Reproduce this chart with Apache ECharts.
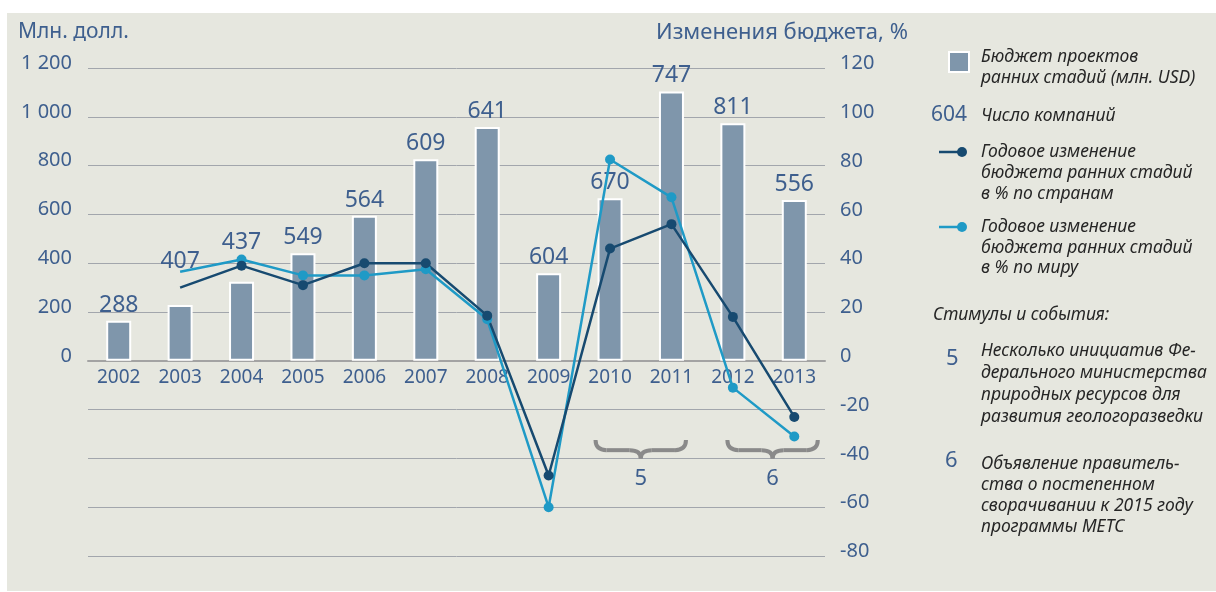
<!DOCTYPE html>
<html lang="ru">
<head>
<meta charset="UTF-8">
<title>Бюджет проектов ранних стадий</title>
<style>
  html, body { margin: 0; padding: 0; background: #fff; }
  #chart { width: 1216px; height: 592px; }
</style>
</head>
<body>
<div id="chart"></div>
<script src="https://cdn.jsdelivr.net/npm/echarts@6/dist/echarts.min.js"></script>
<script>
// data
var years = ['2002', '2003', '2004', '2005', '2006', '2007', '2008', '2009', '2010', '2011', '2012', '2013'];
var budget = [164, 229, 324, 441, 594, 826, 958, 359, 666, 1104, 974, 659];
var companies = [288, 407, 437, 549, 564, 609, 641, 604, 670, 747, 811, 556];
var changeCountries = [null, 30, 39, 31, 40, 40, 18.5, -47, 46, 56, 18, -23];
var changeWorld = [null, 36.5, 41.5, 35, 35, 37.5, 17, -60, 82.5, 67, -11, -31];
var leftTicks = { min: -800, max: 1200, step: 200 };
var rightTicks = { min: -80, max: 120, step: 20 };
var events = [
  { from: '2010', to: '2011', label: '5' },
  { from: '2012', to: '2013', label: '6' }
];

// styles
var BLUE_TXT = '#3e5f8e';
var BAR = '#7f96ab';
var DARK = '#174a70';
var LIGHT = '#1f9ac6';
var GRID = '#a2a6ac';
var FONT = '"Noto Sans", "Open Sans", sans-serif';
var labelLift = { 1: -28, 2: -24 };   // raise 407 / 437 above the lines
var braceShift = [0, 9];
var GRID_TOP = 68, GRID_BOTTOM = 36, H = 592;

var chart = echarts.init(document.getElementById('chart'));

function firstPointPlain(arr) {
  var done = false;
  return arr.map(function (v) {
    if (v != null && !done) { done = true; return { value: v, symbol: 'none' }; }
    return v;
  });
}

function spaced(v) {
  return String(v).replace(/\B(?=(\d{3})+(?!\d))/g, ' ');
}

// x axis sits on the zero of the left axis
var gridH = H - GRID_TOP - GRID_BOTTOM;
var zeroOffset = -gridH * (0 - leftTicks.min) / (leftTicks.max - leftTicks.min);

var option = {
  animation: false,
  backgroundColor: 'transparent',
  grid: { left: 88, right: 391, top: GRID_TOP, bottom: GRID_BOTTOM },
  xAxis: {
    type: 'category',
    data: years,
    boundaryGap: true,
    offset: zeroOffset,
    axisLine: { onZero: false, lineStyle: { color: '#a3a3a3', width: 2 } },
    axisTick: { show: false },
    axisLabel: { color: BLUE_TXT, fontSize: 19, fontFamily: FONT, margin: 7 }
  },
  yAxis: [{
    type: 'value',
    min: leftTicks.min, max: leftTicks.max, interval: leftTicks.step,
    axisLine: { show: false }, axisTick: { show: false },
    splitLine: { lineStyle: { color: GRID, width: 1 } },
    axisLabel: {
      color: BLUE_TXT, fontSize: 20, fontFamily: FONT, margin: 16,
      verticalAlign: 'bottom', lineHeight: 10,
      formatter: function (v) { return v < 0 ? '' : spaced(v); }
    }
  }, {
    type: 'value',
    min: rightTicks.min, max: rightTicks.max, interval: rightTicks.step,
    axisLine: { show: false }, axisTick: { show: false },
    splitLine: { show: false },
    axisLabel: {
      color: BLUE_TXT, fontSize: 20, fontFamily: FONT, margin: 15,
      verticalAlign: 'bottom', lineHeight: 9
    }
  }],
  series: [{
    name: 'Бюджет проектов ранних стадий (млн. USD)',
    type: 'bar',
    yAxisIndex: 0,
    barWidth: 25,
    itemStyle: { color: BAR, borderColor: '#fff', borderWidth: 2 },
    label: {
      show: true, position: 'top', distance: 4,
      color: BLUE_TXT, fontSize: 23, fontFamily: FONT,
      formatter: function (p) { return companies[p.dataIndex]; }
    },
    data: budget.map(function (v, i) {
      return labelLift[i] ? { value: v, label: { offset: [0, labelLift[i]] } } : v;
    })
  }, {
    name: 'Годовое изменение бюджета ранних стадий в % по миру',
    type: 'line',
    yAxisIndex: 1,
    symbol: 'circle', symbolSize: 10,
    lineStyle: { color: LIGHT, width: 2.5 },
    itemStyle: { color: LIGHT },
    data: firstPointPlain(changeWorld)
  }, {
    name: 'Годовое изменение бюджета ранних стадий в % по странам',
    type: 'line',
    yAxisIndex: 1,
    symbol: 'circle', symbolSize: 10,
    lineStyle: { color: DARK, width: 2.5 },
    itemStyle: { color: DARK },
    data: firstPointPlain(changeCountries)
  }]
};

chart.setOption(option);

// static texts + legend
function txt(x, y, text, font, fill, extra) {
  var s = { x: x, y: y, text: text, font: font, fill: fill, verticalAlign: 'top', align: 'left' };
  for (var k in (extra || {})) s[k] = extra[k];
  return { type: 'text', silent: true, style: s };
}

var legFont = 'italic 17.5px ' + FONT;
var legFill = '#262626';
var graphics = [
  { type: 'rect', z: -10, silent: true, shape: { x: 7, y: 13, width: 1215, height: 578 }, style: { fill: '#e6e7df' } },
  txt(18, 22, 'Млн. долл.', '21px ' + FONT, BLUE_TXT),
  txt(656, 22, 'Изменения бюджета, %', '22px ' + FONT, BLUE_TXT),

  { type: 'rect', silent: true, shape: { x: 949, y: 52, width: 20, height: 20 }, style: { fill: BAR, stroke: '#fff', lineWidth: 2 } },
  txt(981, 47, 'Бюджет проектов\nранних стадий (млн. USD)', legFont, legFill, { lineHeight: 21 }),

  txt(931, 105, '604', '21px ' + FONT, BLUE_TXT),
  txt(981, 105.5, 'Число компаний', legFont, legFill, { lineHeight: 21 }),

  { type: 'line', silent: true, shape: { x1: 939, y1: 152, x2: 962, y2: 152 }, style: { stroke: DARK, lineWidth: 2.5 } },
  { type: 'circle', silent: true, shape: { cx: 962, cy: 152, r: 5 }, style: { fill: DARK } },
  txt(981, 142, 'Годовое изменение\nбюджета ранних стадий\nв % по странам', legFont, legFill, { lineHeight: 21 }),

  { type: 'line', silent: true, shape: { x1: 939, y1: 227, x2: 962, y2: 227 }, style: { stroke: LIGHT, lineWidth: 2.5 } },
  { type: 'circle', silent: true, shape: { cx: 962, cy: 227, r: 5 }, style: { fill: LIGHT } },
  txt(981, 217, 'Годовое изменение\nбюджета ранних стадий\nв % по миру', legFont, legFill, { lineHeight: 20.5 }),

  txt(933, 306, 'Стимулы и события:', legFont, legFill),
  txt(946, 348, '5', '22px ' + FONT, BLUE_TXT),
  txt(981, 340, 'Несколько инициатив Фе-\nдерального министерства\nприродных ресурсов для\nразвития геологоразведки', legFont, legFill, { lineHeight: 22 }),
  txt(945, 450, '6', '22px ' + FONT, BLUE_TXT),
  txt(981, 454, 'Объявление правитель-\nства о постепенном\nсворачивании к 2015 году\nпрограммы МЕТС', legFont, legFill, { lineHeight: 21 })
];

// braces under the event years
var braceStyle = { stroke: '#8a8a8a', lineWidth: 4, fill: null };
function curve(x1, y1, cx, cy, x2, y2) {
  return { type: 'bezierCurve', silent: true, shape: { x1: x1, y1: y1, cpx1: cx, cpy1: cy, x2: x2, y2: y2 }, style: braceStyle };
}
events.forEach(function (ev, i) {
  var xa = chart.convertToPixel({ xAxisIndex: 0 }, ev.from);
  var xb = chart.convertToPixel({ xAxisIndex: 0 }, ev.to);
  var yTop = chart.convertToPixel({ yAxisIndex: 1 }, -32.5);
  var yBot = chart.convertToPixel({ yAxisIndex: 1 }, -40);
  var yLab = chart.convertToPixel({ yAxisIndex: 1 }, -48.5);
  var xm = (xa + xb) / 2 + braceShift[i];
  var half = (xb - xa) / 2 + 14.5;
  var x0 = xm - half, x1 = xm + half;
  var yb = yTop + (yBot - yTop) * 0.55;
  var r = 11;
  graphics.push(curve(x0, yTop, x0, yb, x0 + r, yb));
  graphics.push({ type: 'line', silent: true, shape: { x1: x0 + r, y1: yb, x2: xm - r, y2: yb }, style: braceStyle });
  graphics.push(curve(xm - r, yb, xm, yb, xm, yBot));
  graphics.push(curve(xm, yBot, xm, yb, xm + r, yb));
  graphics.push({ type: 'line', silent: true, shape: { x1: xm + r, y1: yb, x2: x1 - r, y2: yb }, style: braceStyle });
  graphics.push(curve(x1 - r, yb, x1, yb, x1, yTop));
  graphics.push(txt(xm, yLab, ev.label, '22px ' + FONT, BLUE_TXT, { align: 'center', verticalAlign: 'middle' }));
});

chart.setOption({ graphic: graphics });
</script>
</body>
</html>
